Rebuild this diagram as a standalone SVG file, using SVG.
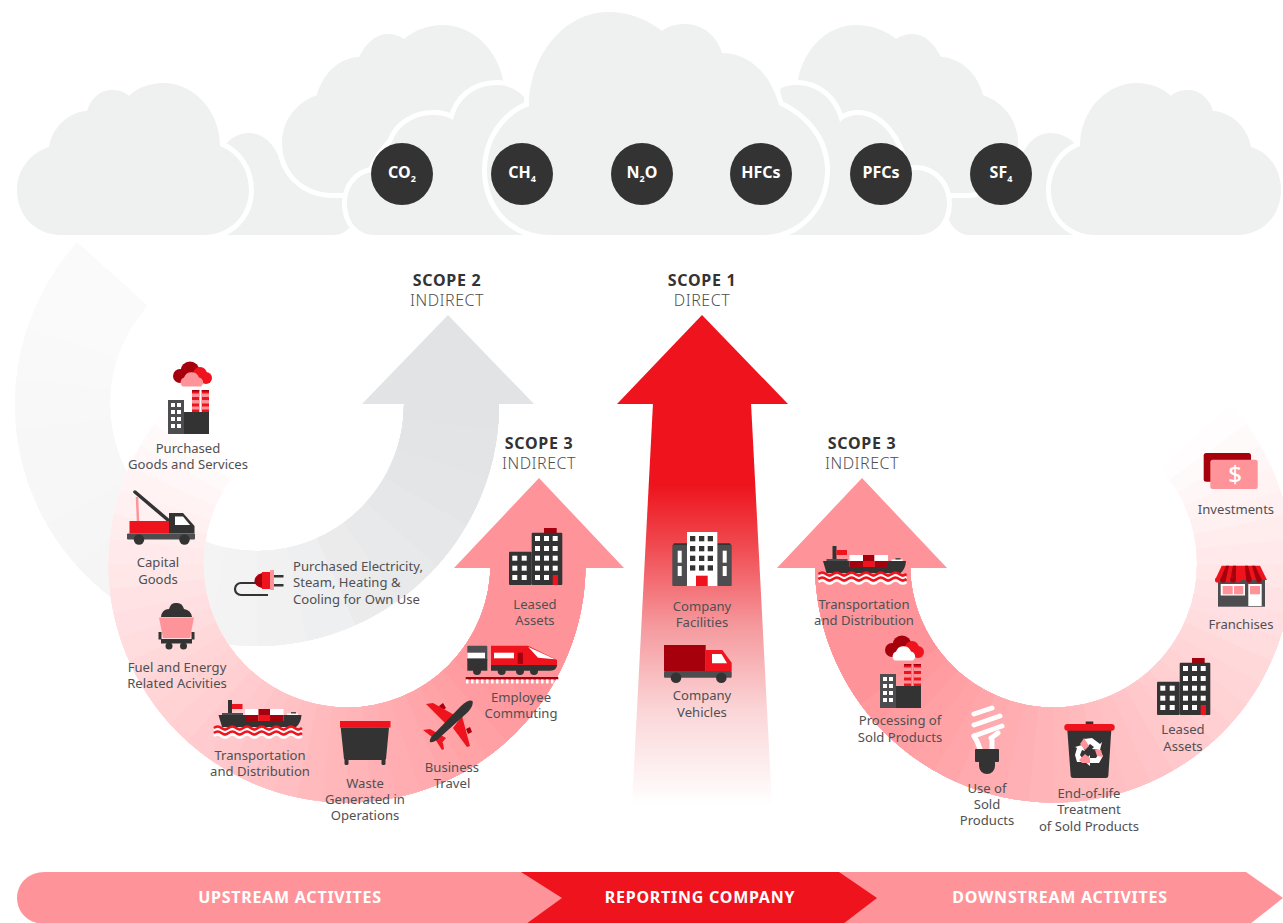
<svg xmlns="http://www.w3.org/2000/svg" xmlns:xlink="http://www.w3.org/1999/xlink" width="1283" height="923" viewBox="0 0 1283 923">
<style>
text{font-family:"Noto Sans","Open Sans","Liberation Sans",sans-serif}
.lb{font-size:13.1px;fill:#505053;text-anchor:middle}
.sb{font-size:16px;font-weight:700;fill:#333;text-anchor:middle;letter-spacing:.7px}
.sl{font-size:16px;font-weight:300;fill:#4f4f52;text-anchor:middle;letter-spacing:.5px}
.gas{font-size:16px;font-weight:700;fill:#fff;text-anchor:middle}
.sub{font-size:9px}
.bar{font-size:16px;font-weight:700;fill:#fff;text-anchor:middle;letter-spacing:.75px}
.cl{fill:#eff0f0}
.co{fill:#eff0f0;stroke:#fff;stroke-width:10;paint-order:stroke;stroke-linejoin:miter}
.d{fill:#333}.g{fill:#4d4d4f}.r{fill:#ee131c}.k{fill:#a5000c}.p{fill:#fe9499}.w{fill:#fff}
#fan circle{fill:none;stroke-width:95}
#scope2-arc circle{fill:none;stroke-width:95}
</style>
<defs>
<linearGradient id="s1" gradientUnits="userSpaceOnUse" x1="0" y1="404" x2="0" y2="805">
<stop offset="0" stop-color="#ee131c"/><stop offset=".2" stop-color="#ee131c"/><stop offset=".347" stop-color="#f0474e"/><stop offset=".556" stop-color="#f59a9e"/><stop offset=".763" stop-color="#fbd5d7"/><stop offset="1" stop-color="#fff"/>
</linearGradient>
<g id="fan">
<circle r="191" pathLength="360" stroke-dasharray="222 360" stroke="#fffdfd"/>
<circle r="191" pathLength="360" stroke-dasharray="216 360" stroke="#fffafa"/>
<circle r="191" pathLength="360" stroke-dasharray="210 360" stroke="#fff7f7"/>
<circle r="191" pathLength="360" stroke-dasharray="204 360" stroke="#fff3f4"/>
<circle r="191" pathLength="360" stroke-dasharray="198 360" stroke="#fff0f1"/>
<circle r="191" pathLength="360" stroke-dasharray="192 360" stroke="#ffeded"/>
<circle r="191" pathLength="360" stroke-dasharray="186 360" stroke="#ffe9ea"/>
<circle r="191" pathLength="360" stroke-dasharray="180 360" stroke="#ffe6e7"/>
<circle r="191" pathLength="360" stroke-dasharray="174 360" stroke="#ffe3e4"/>
<circle r="191" pathLength="360" stroke-dasharray="168 360" stroke="#ffdfe1"/>
<circle r="191" pathLength="360" stroke-dasharray="162 360" stroke="#ffdcde"/>
<circle r="191" pathLength="360" stroke-dasharray="156 360" stroke="#ffd9da"/>
<circle r="191" pathLength="360" stroke-dasharray="150 360" stroke="#ffd5d7"/>
<circle r="191" pathLength="360" stroke-dasharray="144 360" stroke="#ffd2d4"/>
<circle r="191" pathLength="360" stroke-dasharray="138 360" stroke="#ffcfd1"/>
<circle r="191" pathLength="360" stroke-dasharray="132 360" stroke="#ffcbce"/>
<circle r="191" pathLength="360" stroke-dasharray="126 360" stroke="#ffc8ca"/>
<circle r="191" pathLength="360" stroke-dasharray="120 360" stroke="#ffc4c7"/>
<circle r="191" pathLength="360" stroke-dasharray="114 360" stroke="#ffc1c4"/>
<circle r="191" pathLength="360" stroke-dasharray="108 360" stroke="#ffbec1"/>
<circle r="191" pathLength="360" stroke-dasharray="102 360" stroke="#ffbabe"/>
<circle r="191" pathLength="360" stroke-dasharray="96 360" stroke="#ffb7ba"/>
<circle r="191" pathLength="360" stroke-dasharray="90 360" stroke="#ffb4b7"/>
<circle r="191" pathLength="360" stroke-dasharray="84 360" stroke="#ffb0b4"/>
<circle r="191" pathLength="360" stroke-dasharray="78 360" stroke="#ffadb1"/>
<circle r="191" pathLength="360" stroke-dasharray="72 360" stroke="#ffaaae"/>
<circle r="191" pathLength="360" stroke-dasharray="66 360" stroke="#ffa6ab"/>
<circle r="191" pathLength="360" stroke-dasharray="60 360" stroke="#ffa3a7"/>
<circle r="191" pathLength="360" stroke-dasharray="54 360" stroke="#ffa0a4"/>
<circle r="191" pathLength="360" stroke-dasharray="48 360" stroke="#ff9ca1"/>
<circle r="191" pathLength="360" stroke-dasharray="42 360" stroke="#ff999e"/>
<circle r="191" pathLength="360" stroke-dasharray="36 360" stroke="#fe9499"/>
</g>
<g id="factory">
<rect class="g" x="168" y="400" width="16" height="34"/>
<g class="w"><rect x="171" y="403" width="4" height="4"/><rect x="177" y="403" width="4" height="4"/><rect x="171" y="410" width="4" height="4"/><rect x="177" y="410" width="4" height="4"/><rect x="171" y="417" width="4" height="4"/><rect x="177" y="417" width="4" height="4"/><rect x="171" y="424" width="4" height="4"/><rect x="177" y="424" width="4" height="4"/></g>
<rect class="d" x="184" y="412" width="25" height="22"/>
<rect class="r" x="192" y="390" width="7.300" height="22"/><rect class="r" x="201.700" y="390" width="7.300" height="22"/>
<g class="p"><rect x="192" y="393.500" width="7.300" height="3.500"/><rect x="201.700" y="393.500" width="7.300" height="3.500"/><rect x="192" y="400" width="7.300" height="3.500"/><rect x="201.700" y="400" width="7.300" height="3.500"/><rect x="192" y="406.500" width="7.300" height="3"/><rect x="201.700" y="406.500" width="7.300" height="3"/></g>
<g class="k"><rect x="192" y="390" width="7.300" height="1.500"/><rect x="201.700" y="390" width="7.300" height="1.500"/></g>
</g>
<path id="wave" fill="none" stroke-width="2.600" d="M214 0q3.67-3 7.33 0t7.33 0t7.33 0t7.33 0t7.33 0t7.33 0t7.33 0t7.33 0t7.33 0t7.33 0t7.33 0t7.33 0"/>
<g id="ship">
<rect class="d" x="228" y="700" width="4" height="14"/>
<rect class="r" x="232" y="704" width="10.500" height="5"/>
<path class="g" d="M222 713H243V716H222Z"/>
<rect class="w" x="245" y="709" width="13.500" height="6.500"/><rect class="k" x="258.500" y="709" width="11.500" height="6.500"/><rect class="w" x="270" y="709" width="13.500" height="6.500"/>
<rect class="k" x="245" y="715" width="13.500" height="6"/><rect class="r" x="258.500" y="715" width="11.500" height="6"/><rect class="k" x="270" y="715" width="13.500" height="6"/>
<rect class="w" x="287" y="713.500" width="11" height="1.500"/><rect class="g" x="291" y="712" width="5" height="1.500"/>
<path class="d" d="M218.500 715H245V721H283.500V715H301.500Q301 723 296 727H222Z"/>
<use xlink:href="#wave" href="#wave" y="728" stroke="#ee131c"/>
<use xlink:href="#wave" href="#wave" y="731" stroke="#fff"/>
<use xlink:href="#wave" href="#wave" y="733" stroke="#ee131c"/>
<use xlink:href="#wave" href="#wave" y="736" stroke="#fff"/>
</g>
<g id="block">
<rect class="k" x="544" y="528" width="12.700" height="5"/>
<rect class="d" x="531.700" y="532.700" width="30.600" height="52.300" rx="1"/>
<rect class="d" x="509" y="551.700" width="22.700" height="33.300" rx="1"/>
<g class="w">
<rect x="512.300" y="555.700" width="5" height="5"/><rect x="521.700" y="555.700" width="5" height="5"/><rect x="512.300" y="565.700" width="5" height="5"/><rect x="521.700" y="565.700" width="5" height="5"/><rect x="512.300" y="575" width="5" height="5"/><rect x="521.700" y="575" width="5" height="5"/>
<rect x="535" y="536" width="5" height="5"/><rect x="544" y="536" width="5" height="5"/><rect x="552.700" y="536" width="5" height="5"/>
<rect x="535" y="546" width="5" height="5"/><rect x="544" y="546" width="5" height="5"/><rect x="552.700" y="546" width="5" height="5"/>
<rect x="535" y="555.700" width="5" height="5"/><rect x="544" y="555.700" width="5" height="5"/><rect x="552.700" y="555.700" width="5" height="5"/>
<rect x="535" y="565.700" width="5" height="5"/><rect x="544" y="565.700" width="5" height="5"/><rect x="552.700" y="565.700" width="5" height="5"/>
<rect x="535" y="575" width="5" height="5"/><rect x="544" y="575" width="5" height="5"/>
</g>
<rect class="r" x="552.700" y="575" width="5.300" height="10"/>
</g>
</defs>

<g id="connectors">
<g id="scope2-arc" transform="translate(257 404)">
<circle r="194.500" pathLength="360" stroke-dasharray="222 360" stroke="#fafafa"/>
<circle r="194.500" pathLength="360" stroke-dasharray="198 360" stroke="#f9f9f9"/>
<circle r="194.500" pathLength="360" stroke-dasharray="186 360" stroke="#f8f8f8"/>
<circle r="194.500" pathLength="360" stroke-dasharray="174 360" stroke="#f7f7f8"/>
<circle r="194.500" pathLength="360" stroke-dasharray="162 360" stroke="#f7f7f7"/>
<circle r="194.500" pathLength="360" stroke-dasharray="150 360" stroke="#f6f6f6"/>
<circle r="194.500" pathLength="360" stroke-dasharray="138 360" stroke="#f5f5f6"/>
<circle r="194.500" pathLength="360" stroke-dasharray="126 360" stroke="#f4f4f5"/>
<circle r="194.500" pathLength="360" stroke-dasharray="102 360" stroke="#f3f3f4"/>
<circle r="194.500" pathLength="360" stroke-dasharray="90 360" stroke="#f1f1f2"/>
<circle r="194.500" pathLength="360" stroke-dasharray="78 360" stroke="#eeeff0"/>
<circle r="194.500" pathLength="360" stroke-dasharray="66 360" stroke="#ebebec"/>
<circle r="194.500" pathLength="360" stroke-dasharray="54 360" stroke="#e8e9ea"/>
<circle r="194.500" pathLength="360" stroke-dasharray="42 360" stroke="#e6e7e8"/>
<circle r="194.500" pathLength="360" stroke-dasharray="30 360" stroke="#e4e5e7"/>
<circle r="194.500" pathLength="360" stroke-dasharray="18 360" stroke="#e3e4e6"/>
<circle r="194.500" pathLength="360" stroke-dasharray="6 360" stroke="#e2e3e5"/>
</g>
<polygon id="scope2-head" fill="#e2e3e5" points="448,315 534,404 499,404 499,406 404,406 404,404 362,404"/>
<use id="scope3-up-arc" xlink:href="#fan" href="#fan" transform="translate(347 564)"/>
<polygon id="scope3-up-head" class="p" points="539,478 624,568 586,568 586,570 491,570 491,568 454,568"/>
<use id="scope3-down-arc" xlink:href="#fan" href="#fan" transform="translate(1053.500 564) scale(-1 1)"/>
<polygon id="scope3-down-head" class="p" points="862,478 947,568 910,568 910,570 815,570 815,568 777,568"/>
<g id="scope1-arrow">
<polygon fill="url(#s1)" points="653,403 751,403 772,805 632,805"/>
<polygon class="r" points="702,315 788,404 617,404"/>
</g>
</g>

<g id="clouds">
<path class="cl" d="M215 235V160L226 144C232 137 240 133 249 133C262 133 273 143 278 155L352 190V225C346 232 341 235 333 235Z"/>
<path class="co" d="M333 193C302 193 282 170 282 143C282 120 297 102 317 95C322 75 338 58 359 57C365 45 375 34 387 34C394 34 400 36 404 39C415 30 428 25 443 25C474 25 498 52 503 80L520 190L345 193Z"/>
<path class="cl" d="M1085 235V160L1075 144C1069 137 1060 133 1050 133C1037 133 1027 143 1022 155L948 190V218C952 228 960 235 969 235Z"/>
<path class="co" d="M966 193C997 193 1018 170 1018 143C1018 120 1003 102 983 95C978 75 962 58 941 57C935 45 925 34 913 34C906 34 900 36 896 39C885 30 871 25 856 25C825 25 803 52 798 80L780 190L955 193Z"/>
<path class="co" d="M375 235C358 235 347 222 347 203C347 186 358 174 372 172C378 158 385 150 392 142C398 125 415 115 433 115C440 115 447 116 453 120C458 98 475 85 497 85C508 85 518 90 524 97L560 235Z"/>
<path class="co" d="M917 235C935 235 947 222 947 203C947 186 935 171 917 170C912 170 908 171 905 172C900 140 880 115 858 115C851 115 845 117 840 122C835 100 818 85 797 85C790 85 785 86 781 88L740 235Z"/>
<path class="co" d="M552 235C510 235 487 205 487 170C487 140 505 115 529 106C529 55 565 12 608 12C630 12 648 20 662 31C668 26 676 24 685 24C703 24 717 36 722 53C752 53 772 78 779 105C805 117 825 140 825 170C825 205 800 235 762 235Z"/>
<path class="co" d="M61 235C35 235 17 215 17 190C17 170 30 153 49 147C52 128 68 112 87 111C91 98 100 90 112 90C119 90 125 92 129 96C137 88 150 83 163 83C195 83 220 112 220 146C238 153 249 170 249 190C249 215 230 235 204 235Z"/>
<path class="co" d="M1095 235C1069 235 1051 215 1051 190C1051 170 1062 153 1080 146C1080 112 1105 83 1137 83C1150 83 1163 88 1171 96C1175 92 1181 90 1188 90C1200 90 1209 98 1213 111C1232 112 1248 128 1251 147C1270 153 1281 170 1281 190C1281 215 1263 235 1237 235Z"/>
</g>

<g id="gas-co2"><circle class="d" cx="402" cy="174" r="31"/><text class="gas" x="402" y="178">CO<tspan class="sub" dy="4">2</tspan></text></g>
<g id="gas-ch4"><circle class="d" cx="522" cy="174" r="31"/><text class="gas" x="522" y="178">CH<tspan class="sub" dy="4">4</tspan></text></g>
<g id="gas-n2o"><circle class="d" cx="642" cy="174" r="31"/><text class="gas" x="642" y="178">N<tspan class="sub" dy="4">2</tspan><tspan dy="-4">O</tspan></text></g>
<g id="gas-hfcs"><circle class="d" cx="761" cy="174" r="31"/><text class="gas" x="761" y="178">HFCs</text></g>
<g id="gas-pfcs"><circle class="d" cx="881" cy="174" r="31"/><text class="gas" x="881" y="178">PFCs</text></g>
<g id="gas-sf4"><circle class="d" cx="1001" cy="174" r="31"/><text class="gas" x="1001" y="178">SF<tspan class="sub" dy="4">4</tspan></text></g>

<g id="label-scope2"><text class="sb" x="447" y="286">SCOPE 2</text><text class="sl" x="447" y="306">INDIRECT</text></g>
<g id="label-scope1"><text class="sb" x="702" y="286">SCOPE 1</text><text class="sl" x="702" y="306">DIRECT</text></g>
<g id="label-scope3-up"><text class="sb" x="539" y="449">SCOPE 3</text><text class="sl" x="539" y="469">INDIRECT</text></g>
<g id="label-scope3-down"><text class="sb" x="862" y="449">SCOPE 3</text><text class="sl" x="862" y="469">INDIRECT</text></g>

<g id="purchased-goods">
<use xlink:href="#factory" href="#factory"/>
<circle class="k" cx="190" cy="371" r="9.500"/><circle class="k" cx="180" cy="376" r="7"/><circle class="r" cx="200" cy="374" r="7"/><circle class="r" cx="206" cy="378" r="6"/><path class="p" d="M183 386.500a5 5 0 0 1 1-9a8 8 0 0 1 15 0a5 5 0 0 1 2 9Z"/>
<text class="lb"><tspan x="188" y="453">Purchased</tspan><tspan x="188" y="469">Goods and Services</tspan></text>
</g>
<g id="capital-goods">
<line x1="135" y1="492" x2="168" y2="520" stroke="#333" stroke-width="3.500" stroke-linecap="round"/>
<line x1="137" y1="497" x2="138" y2="521" stroke="#fe9499" stroke-width="2.500"/>
<rect class="r" x="129.500" y="521" width="39.500" height="12.500"/>
<path class="d" d="M169 513H183L194.500 526V533.500H169Z"/>
<path class="w" d="M175 516.500H183L190 525H175Z"/>
<rect class="g" x="127" y="533.500" width="68" height="6" rx="1"/>
<circle class="d" cx="139" cy="539.500" r="5.200"/><circle class="d" cx="184.500" cy="539.500" r="5.200"/>
<text class="lb"><tspan x="158" y="567">Capital</tspan><tspan x="158" y="584">Goods</tspan></text>
</g>
<g id="fuel-energy">
<path class="d" d="M161 617Q162 609 169 609Q171 602 176 603Q182 602 184 609Q191 610 192 617Z"/>
<path class="p" d="M159 617.500H194L190 638H163Z"/>
<rect class="d" x="161" y="639" width="31" height="4.500"/>
<rect class="d" x="158.500" y="632" width="3" height="7.500"/><rect class="d" x="191.500" y="632" width="3" height="7.500"/>
<circle class="d" cx="169" cy="646" r="3.500"/><circle class="d" cx="183.500" cy="646" r="3.500"/>
<text class="lb"><tspan x="177" y="672">Fuel and Energy</tspan><tspan x="177" y="688">Related Acivities</tspan></text>
</g>
<g id="purchased-electricity">
<path fill="none" stroke="#333" stroke-width="2.200" d="M268 595H241A6 6 0 0 1 241 583H256"/>
<path class="k" d="M262 573V588Q254 586 254.500 580.500Q255 575 262 573Z"/>
<rect class="r" x="262" y="572" width="8" height="17"/>
<rect class="p" x="270" y="570" width="4" height="20"/>
<rect class="d" x="274" y="575" width="9.500" height="2.500"/><rect class="d" x="274" y="584" width="9.500" height="2.500"/>
<text class="lb" style="text-anchor:start"><tspan x="293" y="571">Purchased Electricity,</tspan><tspan x="293" y="587">Steam, Heating &amp;</tspan><tspan x="293" y="604">Cooling for Own Use</tspan></text>
</g>
<g id="transport-up">
<use xlink:href="#ship" href="#ship"/>
<text class="lb"><tspan x="260" y="760">Transportation</tspan><tspan x="260" y="776">and Distribution</tspan></text>
</g>
<g id="waste">
<rect class="r" x="340" y="721" width="50.500" height="6.500"/>
<path class="d" d="M340.700 727.500H389L386 759Q386 760 384 760H346Q344 760 344 759Z"/>
<rect class="d" x="344.500" y="759" width="4" height="6" rx="1.500"/><rect class="d" x="381.500" y="759" width="4" height="6" rx="1.500"/>
<text class="lb"><tspan x="365" y="788">Waste</tspan><tspan x="365" y="804">Generated in</tspan><tspan x="365" y="820">Operations</tspan></text>
</g>
<g id="business-travel">
<path class="k" d="M439 706L443 703L446 708L442 711ZM466 729L470 727L472 732L468 734Z"/>
<path class="r" d="M426 704L433 703L458 717L450 728ZM453 728L462 716L470 746L467 747ZM423 730L430 729L446 738L441 744ZM435 739L443 743L444 749L442 750Z"/>
<path class="d" d="M472.500 701Q474 705 468 712L437 740Q432 743 430 742Q429 740 432 736L461 706Q469 699 472.500 701Z"/>
<text class="lb"><tspan x="452" y="772">Business</tspan><tspan x="452" y="788">Travel</tspan></text>
</g>
<g id="employee-commuting">
<rect class="g" x="467.300" y="645.700" width="20" height="15" rx="1"/>
<rect class="d" x="467.300" y="659" width="20" height="11.700"/>
<rect class="w" x="467.300" y="652.700" width="17.700" height="5.600"/>
<path class="r" d="M491 645.700H528L557 660V666H491Z"/>
<path class="d" d="M491 665H557Q557 670.700 550 670.700H491Z"/>
<path class="w" d="M528 646.700L555 659.300L538 657.700Z"/>
<rect class="w" x="494" y="652.700" width="20" height="5.600"/>
<rect class="k" x="517.700" y="652.700" width="5.300" height="11.300"/>
<circle class="d" cx="477" cy="671" r="4"/><circle class="d" cx="501.700" cy="671" r="4"/><circle class="d" cx="520" cy="671" r="4"/><circle class="d" cx="534" cy="671" r="4"/>
<rect class="k" x="465.700" y="677" width="92.600" height="2.500"/>
<line x1="466" y1="681.500" x2="558" y2="681.500" stroke="#fff" stroke-width="4" stroke-dasharray="2.500 2.500"/>
<text class="lb"><tspan x="521" y="702">Employee</tspan><tspan x="521" y="718">Commuting</tspan></text>
</g>
<g id="leased-assets-up">
<use xlink:href="#block" href="#block"/>
<text class="lb"><tspan x="535" y="609">Leased</tspan><tspan x="535" y="625">Assets</tspan></text>
</g>
<g id="company-facilities">
<path class="d" d="M674 543.300H687V546H672.300V546ZM717.300 543.300H730L731.700 546H717.300Z"/>
<rect class="g" x="672.300" y="545" width="14.700" height="41" rx="1"/><rect class="g" x="717.300" y="545" width="14.400" height="41" rx="1"/>
<rect class="w" x="687" y="532" width="30.300" height="54"/>
<g class="d"><rect x="690" y="536" width="5.300" height="5.300"/><rect x="699" y="536" width="5.300" height="5.300"/><rect x="707.700" y="536" width="5.300" height="5.300"/><rect x="690" y="546" width="5.300" height="5.300"/><rect x="699" y="546" width="5.300" height="5.300"/><rect x="707.700" y="546" width="5.300" height="5.300"/><rect x="690" y="555.700" width="5.300" height="5.300"/><rect x="699" y="555.700" width="5.300" height="5.300"/><rect x="707.700" y="555.700" width="5.300" height="5.300"/><rect x="690" y="565.300" width="5.300" height="5.300"/><rect x="699" y="565.300" width="5.300" height="5.300"/><rect x="707.700" y="565.300" width="5.300" height="5.300"/></g>
<rect class="r" x="696" y="575.700" width="11.700" height="10.300"/>
<g class="w"><rect x="677.700" y="550.700" width="4" height="12"/><rect x="677.700" y="566" width="4" height="10"/><rect x="722.700" y="550.700" width="4" height="12"/><rect x="722.700" y="566" width="4" height="10"/></g>
<text class="lb"><tspan x="702" y="611">Company</tspan><tspan x="702" y="627">Facilities</tspan></text>
</g>
<g id="company-vehicles">
<rect class="k" x="664" y="645" width="41.700" height="26"/>
<path class="r" d="M705.700 650H722.300L731.700 662.700V671H705.700Z"/>
<path class="w" d="M712 654H721.500L727 663.300H712Z"/>
<rect class="g" x="664" y="671" width="67.700" height="6.700" rx="1"/>
<circle class="d" cx="676" cy="677.700" r="5.300"/><circle class="d" cx="721.300" cy="677.700" r="5.300"/>
<text class="lb"><tspan x="702" y="700">Company</tspan><tspan x="702" y="717">Vehicles</tspan></text>
</g>
<g id="transport-down">
<use xlink:href="#ship" href="#ship" x="604.500" y="-154"/>
<text class="lb"><tspan x="864" y="609">Transportation</tspan><tspan x="864" y="625">and Distribution</tspan></text>
</g>
<g id="processing">
<use xlink:href="#factory" href="#factory" x="712" y="274"/>
<circle class="k" cx="902" cy="645" r="9.500"/><circle class="k" cx="892" cy="650" r="7"/><circle class="r" cx="912" cy="648" r="7"/><circle class="r" cx="918" cy="652" r="6"/><path class="w" d="M895 660.500a5 5 0 0 1 1-9a8 8 0 0 1 15 0a5 5 0 0 1 2 9Z"/>
<text class="lb"><tspan x="900" y="725">Processing of</tspan><tspan x="900" y="742">Sold Products</tspan></text>
</g>
<g id="use-of-sold">
<g fill="none" stroke="#fff" stroke-width="5" stroke-linecap="round">
<line x1="974" y1="714" x2="992" y2="708"/><line x1="974" y1="725" x2="1000" y2="716"/><line x1="974" y1="736" x2="1002" y2="726"/>
<path d="M974 736Q978 742 980 749M991 738L998 733M992 740V749"/></g>
<path class="d" d="M975 750Q975 749 976 749H998Q999 749 999 750V761Q999 762 998 762H995V766A8 8 0 0 1 979 766V762H976Q975 762 975 761Z"/>
<text class="lb"><tspan x="987" y="793">Use of</tspan><tspan x="987" y="809">Sold</tspan><tspan x="987" y="825">Products</tspan></text>
</g>
<g id="end-of-life">
<rect class="d" x="1085.700" y="721.500" width="7.600" height="3"/>
<path class="d" d="M1067.300 730H1111.300L1108.300 776Q1108 778 1106 778H1073Q1071 778 1070.700 776Z"/>
<rect class="r" x="1064.300" y="724" width="50.400" height="6.700" rx="3.300"/>
<g id="recycle">
<path class="w" d="M1084 739L1092 738L1100 744L1102 742L1100 750L1092 749L1094 747L1090 744L1087 747Z"/>
<path class="w" d="M1100 752L1103 756L1099 763L1090 763V766L1084 761L1090 755V758L1096 758Z"/>
<path class="w" d="M1085 762L1077 762L1075 755L1077 748L1075 747L1082 745L1085 751L1082 750L1080 755Z"/>
<path class="p" d="M1080 744L1084 738L1089 746L1085 750ZM1095 750L1101 750L1103 757L1097 756ZM1085 754L1090 758V763L1082 763L1079 760Z"/>
</g>
<text class="lb"><tspan x="1089" y="798">End-of-life</tspan><tspan x="1089" y="814">Treatment</tspan><tspan x="1089" y="831">of Sold Products</tspan></text>
</g>
<g id="leased-assets-down">
<use xlink:href="#block" href="#block" x="648" y="130"/>
<text class="lb"><tspan x="1183" y="734">Leased</tspan><tspan x="1183" y="751">Assets</tspan></text>
</g>
<g id="franchises">
<rect class="g" x="1218" y="580" width="47" height="26.700"/>
<rect class="w" x="1220.700" y="584" width="24.300" height="11.500"/>
<rect class="p" x="1222.700" y="586" width="10" height="8.300"/><rect class="p" x="1234" y="586" width="9.300" height="8.300"/>
<rect class="w" x="1248.300" y="584" width="13.400" height="22"/><rect class="p" x="1250" y="586" width="10" height="8.300"/>
<path class="r" d="M1221.700 565.700H1260L1267 580H1215Z"/>
<g class="r"><circle cx="1217.600" cy="580" r="2.600"/><circle cx="1228" cy="580" r="2.600"/><circle cx="1238.400" cy="580" r="2.600"/><circle cx="1248.800" cy="580" r="2.600"/><circle cx="1259.200" cy="580" r="2.600"/></g>
<g class="k"><path d="M1226 565.700H1229L1225.800 580H1220.200Z"/><path d="M1233 565.700H1236L1235.800 580H1230.200Z"/><path d="M1245 565.700H1248L1251.800 580H1246.200Z"/><path d="M1252 565.700H1255L1261.800 580H1256.200Z"/>
<circle cx="1223" cy="580" r="2.600"/><circle cx="1233" cy="580" r="2.600"/><circle cx="1249" cy="580" r="2.600"/><circle cx="1259" cy="580" r="2.600"/></g>
<text class="lb"><tspan x="1241" y="629">Franchises</tspan></text>
</g>
<g id="investments">
<rect class="k" x="1203.700" y="453" width="47.300" height="28.700" rx="2.500"/>
<rect class="p" x="1210.300" y="459.700" width="47.400" height="29.300" rx="2.500"/>
<text x="1235" y="483" style="font-size:24px;font-weight:500;fill:#fff;text-anchor:middle">$</text>
<text class="lb"><tspan x="1236" y="514">Investments</tspan></text>
</g>

<g id="bar">
<g id="bar-downstream"><path class="p" d="M800 872H1246L1283 898L1250 924H800Z"/><text class="bar" x="1060" y="903">DOWNSTREAM ACTIVITES</text></g>
<g id="bar-reporting"><path class="r" d="M500 872H839L877 898L843 924H500Z"/><text class="bar" x="700" y="903">REPORTING COMPANY</text></g>
<g id="bar-upstream"><path class="p" d="M45 872H521L562 898L526 924H45C28 924 17 912 17 898C17 884 28 872 45 872Z"/><text class="bar" x="290" y="903">UPSTREAM ACTIVITES</text></g>
</g>
</svg>
